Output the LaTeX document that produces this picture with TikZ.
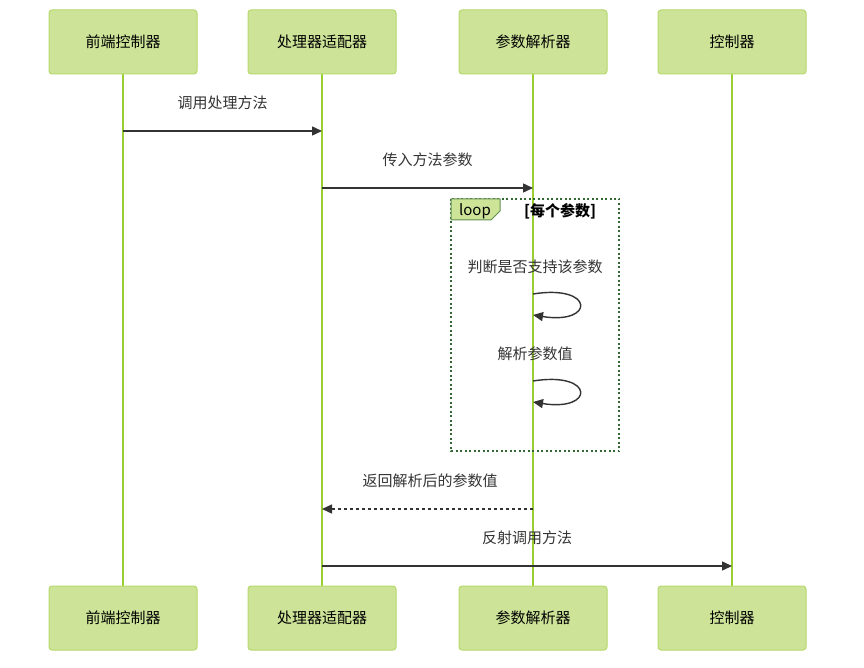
\documentclass[tikz,border=0pt]{standalone}
\usepackage{fontspec}
\setmainfont{Noto Sans CJK SC}
\usetikzlibrary{arrows.meta}
\definecolor{actfill}{HTML}{CDE498}
\definecolor{actline}{HTML}{B5D86A}
\definecolor{lifeln}{HTML}{9ACD32}
\definecolor{loopln}{HTML}{326932}
\definecolor{txt}{HTML}{333333}
\tikzset{
  actor/.style={draw=actline, fill=actfill, line width=1pt, rounded corners=3pt, minimum width=148pt, minimum height=64pt, inner sep=0pt, font=\fontsize{15}{18}\selectfont, text=black},
  life/.style={draw=lifeln, line width=1.8pt},
  msg/.style={draw=txt, line width=1.4pt, -{Triangle[length=10pt,width=9pt]}},
  ret/.style={msg, dash pattern=on 3pt off 3pt},
  lbl/.style={font=\fontsize{15}{18}\selectfont, text=txt, inner sep=0pt},
  loopbox/.style={draw=loopln, line width=1.8pt, dash pattern=on 2pt off 2.5pt}
}
\begin{document}
\begin{tikzpicture}[x=1pt,y=-1pt]
\useasboundingbox (0,0) rectangle (864,668);
% lifelines
\coordinate (atop) at (123,74); \coordinate (abot) at (123,586);
\coordinate (btop) at (322,74); \coordinate (bbot) at (322,586);
\coordinate (ctop) at (533,74); \coordinate (cbot) at (533,586);
\coordinate (dtop) at (732,74); \coordinate (dbot) at (732,586);
\draw[life] (atop) -- (abot);
\draw[life] (btop) -- (bbot);
\draw[life] (ctop) -- (cbot);
\draw[life] (dtop) -- (dbot);
% actors
\node[actor] (a1) at (123,42) {前端控制器};
\node[actor] (b1) at (322,42) {处理器适配器};
\node[actor] (c1) at (533,42) {参数解析器};
\node[actor] (d1) at (732,42) {控制器};
\node[actor] (a2) at (123,618) {前端控制器};
\node[actor] (b2) at (322,618) {处理器适配器};
\node[actor] (c2) at (533,618) {参数解析器};
\node[actor] (d2) at (732,618) {控制器};
% message 1
\coordinate (m1s) at (123,131); \coordinate (m1e) at (322,131);
\node[lbl] (l1) at (222.5,103) {调用处理方法};
\draw[msg] (m1s) -- (m1e);
% message 2
\coordinate (m2s) at (322,188); \coordinate (m2e) at (533,188);
\node[lbl] (l2) at (427.5,160) {传入方法参数};
\draw[msg] (m2s) -- (m2e);
% loop
\draw[loopbox] (451,199) rectangle (619,451);
\draw[draw=loopln!70!actfill, fill=actfill, line width=1pt] (451,199) -- (500,199) -- (500,211) -- (491,220) -- (451,220) -- cycle;
\node[lbl, text=black] (lp) at (475,211) {loop};
\node[lbl, text=black, font=\fontsize{15}{18}\selectfont\bfseries] (lpc) at (560,211) {[每个参数]};
% self 1
\node[lbl] (l3) at (535,267) {判断是否支持该参数};
\coordinate (s1s) at (533,294); \coordinate (s1e) at (533,315);
\draw[msg] (s1s) .. controls (595,284) and (595,325) .. (s1e);
% self 2
\node[lbl] (l4) at (535,354) {解析参数值};
\coordinate (s2s) at (533,381); \coordinate (s2e) at (533,402);
\draw[msg] (s2s) .. controls (595,371) and (595,412) .. (s2e);
% return
\node[lbl] (l5) at (430,481) {返回解析后的参数值};
\coordinate (r1s) at (533,509); \coordinate (r1e) at (322,509);
\draw[ret] (r1s) -- (r1e);
% message 3
\node[lbl] (l6) at (527,538) {反射调用方法};
\coordinate (m3s) at (322,566); \coordinate (m3e) at (732,566);
\draw[msg] (m3s) -- (m3e);
\end{tikzpicture}
\end{document}
